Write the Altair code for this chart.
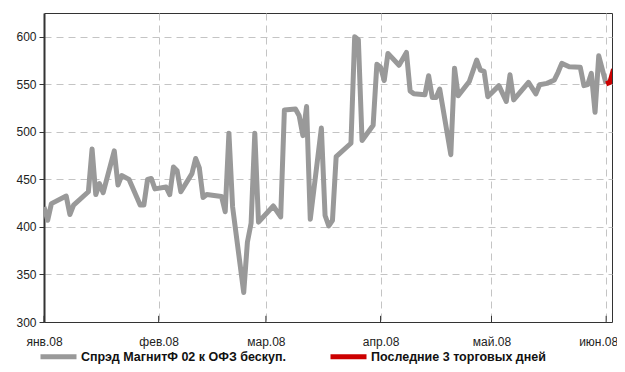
import json
import altair as alt
import pandas as pd

title_text = "МагнитФ 02"
series_names = ["Спрэд МагнитФ 02 к ОФЗ бескуп.", "Последние 3 торговых дней"]
series_colors = ["#999999", "#cc0000"]

gray_dates = [
    "2008-01-01", "2008-01-02", "2008-01-03", "2008-01-07", "2008-01-08", "2008-01-09",
    "2008-01-13", "2008-01-14", "2008-01-15", "2008-01-16", "2008-01-17", "2008-01-20",
    "2008-01-21", "2008-01-22", "2008-01-24", "2008-01-27", "2008-01-28", "2008-01-29",
    "2008-01-30", "2008-01-31", "2008-02-03", "2008-02-04", "2008-02-05", "2008-02-06",
    "2008-02-07", "2008-02-10", "2008-02-11", "2008-02-12", "2008-02-13", "2008-02-14",
    "2008-02-18", "2008-02-19", "2008-02-20", "2008-02-21", "2008-02-24", "2008-02-25",
    "2008-02-26", "2008-02-27", "2008-02-28", "2008-03-03", "2008-03-05", "2008-03-06",
    "2008-03-09", "2008-03-10", "2008-03-11", "2008-03-12", "2008-03-13", "2008-03-16",
    "2008-03-17", "2008-03-18", "2008-03-19", "2008-03-20", "2008-03-24", "2008-03-25",
    "2008-03-26", "2008-03-27", "2008-03-30", "2008-03-31", "2008-04-01", "2008-04-02",
    "2008-04-03", "2008-04-06", "2008-04-08", "2008-04-09", "2008-04-10", "2008-04-13",
    "2008-04-14", "2008-04-15", "2008-04-16", "2008-04-17", "2008-04-20", "2008-04-21",
    "2008-04-22", "2008-04-25", "2008-04-27", "2008-04-28", "2008-04-29", "2008-04-30",
    "2008-05-03", "2008-05-05", "2008-05-06", "2008-05-07", "2008-05-11", "2008-05-13",
    "2008-05-14", "2008-05-16", "2008-05-18", "2008-05-19", "2008-05-20", "2008-05-22",
    "2008-05-25", "2008-05-26", "2008-05-27", "2008-05-28", "2008-05-29", "2008-05-30",
    "2008-06-01",
]
gray_values = [
    421, 407, 424.5, 432.5, 413, 423,
    437, 482, 434, 445.5, 436, 480,
    444, 454, 450, 423, 423, 450,
    451, 440, 442, 434, 463, 459,
    437, 456, 472, 462, 431, 434,
    432, 416, 498.6, 421, 331, 384,
    404, 498.6, 405, 422, 410.5, 523,
    524, 517, 496, 526.6, 408, 504,
    412, 401, 407, 474, 488, 600,
    597, 491, 507, 571, 568, 554,
    582.5, 570, 583.5, 543, 540, 539,
    559, 536, 536, 545, 476, 567,
    538, 553, 575.5, 565, 563.6, 537,
    548.6, 532, 560, 533.6, 552, 540,
    549.6, 551, 554.6, 562.6, 572, 568.5,
    568, 548.6, 549.6, 561.5, 520.6, 580,
    550.4,
]
red_dates = ["2008-06-01", "2008-06-02", "2008-06-03"]
red_values = [550.4, 552, 566]

month_ticks = ["2008-01-01", "2008-02-01", "2008-03-01", "2008-04-01", "2008-05-01", "2008-06-01"]
month_labels = ["янв.08", "фев.08", "мар.08", "апр.08", "май.08", "июн.08"]
y_ticks = [300, 350, 400, 450, 500, 550, 600]

df = pd.DataFrame(
    {
        "date": gray_dates + red_dates,
        "value": gray_values + red_values,
        "series": [series_names[0]] * len(gray_dates) + [series_names[1]] * len(red_dates),
        "order": list(range(len(gray_dates))) + list(range(len(red_dates))),
    }
)
ticks_df = pd.DataFrame({"date": month_ticks, "y0": [300] * len(month_ticks), "y1": [306.5] * len(month_ticks)})

x_scale = alt.Scale(
    type="utc",
    domain=[
        alt.DateTime(year=2008, month=1, date=1, utc=True),
        alt.DateTime(year=2008, month=6, date=2, hours=14, utc=True),
    ],
)
y_scale = alt.Scale(domain=[300, 625], nice=False, zero=False)

tick_values = [
    alt.DateTime(year=2008, month=m, date=1, utc=True) for m in range(1, 7)
]
label_expr = json.dumps(month_labels, ensure_ascii=False) + "[utcmonth(datum.value)]"

lines = (
    alt.Chart(df)
    .mark_line(strokeWidth=5, strokeJoin="round", strokeCap="butt", clip=True)
    .encode(
        x=alt.X(
            "date:T",
            scale=x_scale,
            axis=alt.Axis(
                values=tick_values,
                labelExpr=label_expr,
                ticks=False,
                labelPadding=14,
                labelAlign="center",
                labelFlush=False,
                labelOverlap=False,
                labelOffset={"condition": {"test": "utcmonth(datum.value) == 5", "value": -8}, "value": 0},
                labelFont="Liberation Sans",
                labelFontSize=12,
                labelColor="#222222",
                domainColor="#333333",
                domainWidth=1,
                grid=True,
                gridColor="#c4c4c4",
                gridDash=[7, 5],
                title=None,
            ),
        ),
        y=alt.Y(
            "value:Q",
            scale=y_scale,
            axis=alt.Axis(
                values=y_ticks,
                tickSize=5,
                tickColor="#333333",
                domainColor="#333333",
                domainWidth=2,
                labelFont="Liberation Sans",
                labelFontSize=12,
                labelColor="#222222",
                labelPadding=3,
                grid=True,
                gridColor="#c4c4c4",
                gridDash=[7, 5],
                title=None,
            ),
        ),
        color=alt.Color(
            "series:N",
            scale=alt.Scale(domain=series_names, range=series_colors),
            legend=alt.Legend(
                orient="none",
                legendX=-6,
                legendY=323,
                direction="horizontal",
                symbolType="stroke",
                symbolSize=1296,
                symbolStrokeWidth=5,
                labelFont="Liberation Sans",
                labelFontWeight="bold",
                labelFontSize=12.5,
                labelColor="#111111",
                labelLimit=400,
                labelOffset=2,
                columnPadding=34,
                title=None,
            ),
        ),
        order="order:Q",
    )
)

inner_ticks = (
    alt.Chart(ticks_df)
    .mark_rule(color="#333333", strokeWidth=1)
    .encode(x=alt.X("date:T", scale=x_scale), y="y0:Q", y2="y1:Q")
)

chart = (
    alt.layer(lines, inner_ticks)
    .properties(
        width=568,
        height=309,
        autosize=alt.AutoSizeParams(type="none"),
        padding={"left": 36, "top": 5, "right": 5, "bottom": 42},
        title=alt.TitleParams(
            text=title_text,
            font="Liberation Sans",
            fontSize=13,
            fontWeight="bold",
            color="#111111",
            anchor="middle",
            baseline="bottom",
            offset=1,
            dx=20,
        ),
    )
    .configure_view(stroke="#333333", strokeWidth=1)
)

chart.save("out.html", embed_options={"renderer": "svg", "actions": False})
